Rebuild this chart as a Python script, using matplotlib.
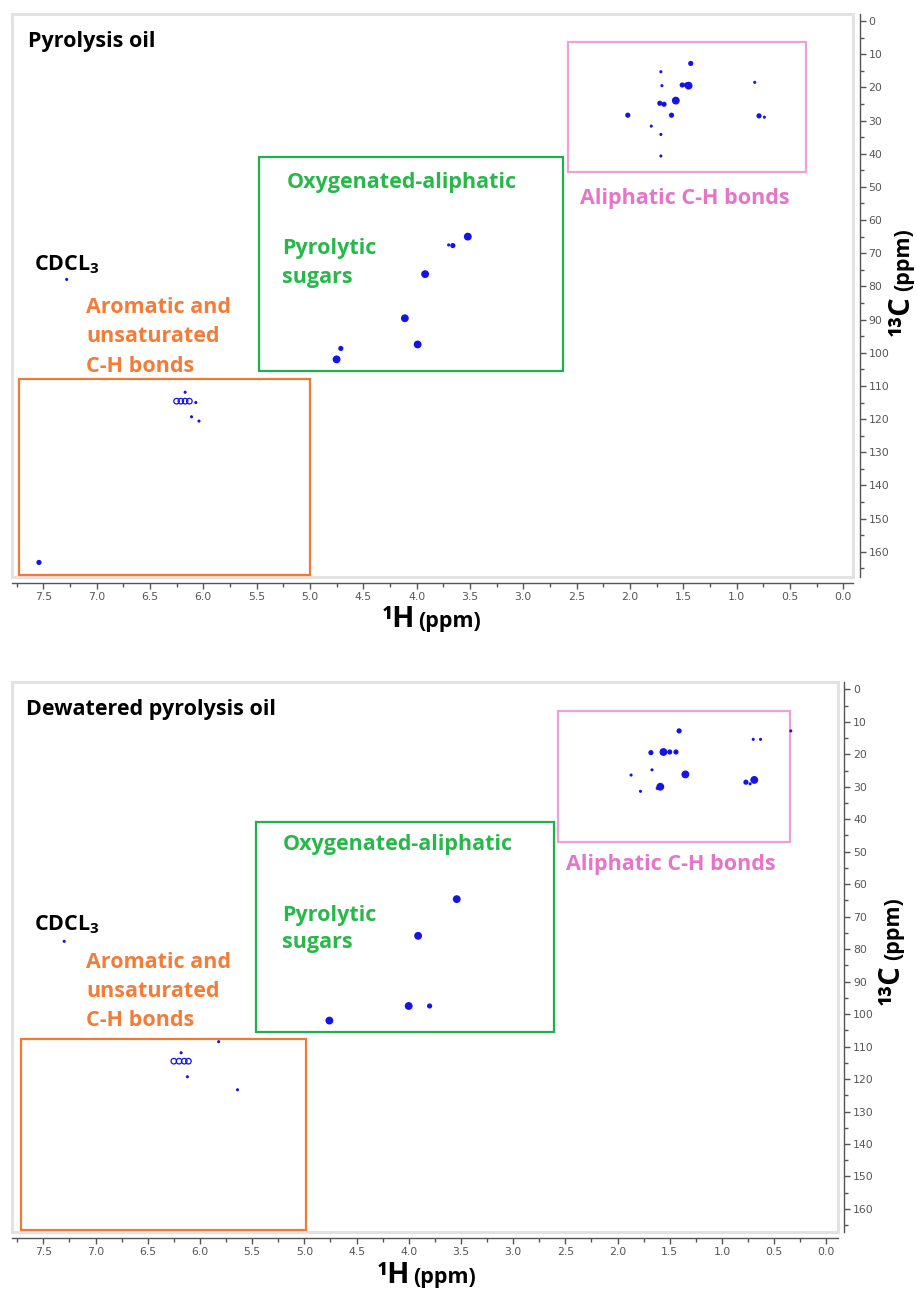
import matplotlib
matplotlib.use("Agg")
import matplotlib.pyplot as plt
from matplotlib.patches import Rectangle

plt.rcParams['mathtext.fontset'] = 'custom'
plt.rcParams['mathtext.rm'] = 'Open Sans'
plt.rcParams['mathtext.bf'] = 'Open Sans:bold'

# ---------------- data ----------------
panel_titles = ["Pyrolysis oil", "Dewatered pyrolysis oil"]
h_ticks = [7.5, 7.0, 6.5, 6.0, 5.5, 5.0, 4.5, 4.0, 3.5, 3.0, 2.5, 2.0, 1.5, 1.0, 0.5, 0.0]
c_ticks = [0, 10, 20, 30, 40, 50, 60, 70, 80, 90, 100, 110, 120, 130, 140, 150, 160]

# Pyrolysis oil cross peaks (1H ppm, 13C ppm, intensity level 1-3)
po_h = [7.54, 7.28, 6.17, 6.07, 6.11, 6.04,
        4.75, 4.71, 4.11, 3.99, 3.92, 3.70, 3.66, 3.52,
        1.43, 1.71, 1.70, 1.51, 1.47, 1.45, 0.83, 1.72, 1.68, 1.57,
        2.02, 1.61, 0.79, 0.74, 1.80, 1.71, 1.71]
po_c = [163.2, 77.9, 111.9, 115.0, 119.3, 120.6,
        102.0, 98.7, 89.6, 97.5, 76.3, 67.5, 67.7, 65.0,
        12.8, 15.3, 19.5, 19.3, 19.3, 19.5, 18.5, 24.8, 25.1, 24.0,
        28.4, 28.4, 28.6, 29.0, 31.7, 34.2, 40.7]
po_int = [2, 1, 1, 1, 1, 1,
          3, 2, 3, 3, 3, 1, 2, 3,
          2, 1, 1, 2, 2, 3, 1, 2, 2, 3,
          2, 2, 2, 1, 1, 1, 1]
po_ring_h = [6.25, 6.21, 6.17, 6.13]
po_ring_c = [114.6, 114.6, 114.6, 114.6]

# Dewatered pyrolysis oil cross peaks
dpo_h = [7.30, 6.18, 6.12, 5.64, 5.82,
         4.76, 4.00, 3.80, 3.91, 3.54,
         1.41, 0.70, 0.63, 0.34, 1.68, 1.56, 1.50, 1.44, 1.67, 1.35,
         1.87, 0.77, 0.73, 0.69, 1.59, 1.62, 1.78]
dpo_c = [77.6, 111.9, 119.3, 123.3, 108.5,
         102.0, 97.5, 97.5, 75.9, 64.6,
         12.8, 15.4, 15.4, 12.8, 19.5, 19.3, 19.3, 19.3, 24.8, 26.2,
         26.4, 28.6, 29.1, 27.9, 30.0, 30.5, 31.4]
dpo_int = [1, 1, 1, 1, 1,
           3, 3, 2, 3, 3,
           2, 1, 1, 1, 2, 3, 2, 2, 1, 3,
           1, 2, 1, 3, 3, 1, 1]
dpo_ring_h = [6.25, 6.20, 6.15, 6.11]
dpo_ring_c = [114.5, 114.5, 114.5, 114.5]

# Assignment regions: (1H left, 1H right, 13C top, 13C bottom)
po_regions = {
    "aliphatic": (2.58, 0.35, 6.2, 45.6),
    "oxygenated": (5.48, 2.63, 40.9, 105.5),
    "aromatic": (7.73, 5.00, 108.0, 167.0),
}
dpo_regions = {
    "aliphatic": (2.57, 0.35, 6.6, 46.9),
    "oxygenated": (5.46, 2.61, 40.9, 105.4),
    "aromatic": (7.71, 4.98, 107.6, 166.5),
}

# ---------------- style ----------------
W, H = 917, 1289
BOX_COL = {"aliphatic": "#EEA0DA", "oxygenated": "#1FB04B", "aromatic": "#F07A35"}
TXT_COL = {"aliphatic": "#E674C8", "oxygenated": "#28B84A", "aromatic": "#F27C38"}
PEAK_COL = "#1414E6"
SIZE_MAP = {1: 5, 2: 14, 3: 32}
FONT = "Open Sans"
FS = 15.5

fig = plt.figure(figsize=(W / 100, H / 100), dpi=100)
fig.patch.set_facecolor("white")
renderer = fig.canvas.get_renderer()


def make_axes(px_left, px_right, px_top, px_bottom):
    return fig.add_axes([px_left / W, 1 - px_bottom / H,
                         (px_right - px_left) / W, (px_bottom - px_top) / H])


def style_axes(ax, xlim, ylim):
    ax.set_xlim(*xlim)
    ax.set_ylim(*ylim)
    for s in ["top", "left"]:
        ax.spines[s].set_visible(False)
    for s in ["bottom", "right"]:
        ax.spines[s].set_position(("outward", 4.5))
        ax.spines[s].set_color("#555555")
        ax.spines[s].set_linewidth(1.0)
    ax.yaxis.tick_right()
    ax.set_xticks(h_ticks)
    ax.set_xticklabels([f"{v:.1f}" for v in h_ticks])
    ax.set_xticks([v + 0.25 for v in h_ticks], minor=True)
    ax.set_yticks(c_ticks)
    ax.set_yticklabels([str(v) for v in c_ticks])
    ax.set_yticks([v + 5 for v in c_ticks], minor=True)
    ax.tick_params(axis="both", which="major", length=4, width=1, color="#555555",
                   labelsize=7.8, labelcolor="#555555", pad=2.5)
    ax.tick_params(axis="both", which="minor", length=3, width=1, color="#555555")
    ax.tick_params(axis="y", which="both", left=False, right=True)
    for lab in ax.get_xticklabels() + ax.get_yticklabels():
        lab.set_family("DejaVu Sans")
    ax.add_patch(Rectangle((0, 0), 1, 1, transform=ax.transAxes, fill=False,
                           ec="#E2E2E2", lw=2.2, clip_on=False, zorder=0))


def draw_panel(ax, title, title_y, hs, cs, ints, ring_h, ring_c, regions, txt):
    for key, (h0, h1, c0, c1) in regions.items():
        ax.add_patch(Rectangle((h1, c0), h0 - h1, c1 - c0, fill=False,
                               ec=BOX_COL[key], lw=1.6, zorder=2))
    ax.scatter(hs, cs, s=[SIZE_MAP[i] for i in ints], color=PEAK_COL,
               linewidths=0, zorder=3)
    ax.scatter(ring_h, ring_c, s=16, facecolors="none", edgecolors=PEAK_COL,
               linewidths=0.9, zorder=3)
    kw = dict(family=FONT, weight="bold", fontsize=FS, ha="left", va="baseline")
    ax.text(txt["title"][0], title_y, title, color="black", **kw)
    ax.text(txt["cdcl"][0], txt["cdcl"][1], r"CDCL$_{\mathbf{3}}$", color="black", **kw)
    for line, y in zip(["Aromatic and", "unsaturated", "C-H bonds"], txt["arom"][1]):
        ax.text(txt["arom"][0], y, line, color=TXT_COL["aromatic"], **kw)
    ax.text(txt["oxy"][0], txt["oxy"][1], "Oxygenated-aliphatic",
            color=TXT_COL["oxygenated"], **kw)
    for line, y in zip(["Pyrolytic", "sugars"], txt["sug"][1]):
        ax.text(txt["sug"][0], y, line, color=TXT_COL["oxygenated"], **kw)
    ax.text(txt["ali"][0], txt["ali"][1], "Aliphatic C-H bonds",
            color=TXT_COL["aliphatic"], **kw)


def axis_titles(h_right_px, h_base_px, c_x_px, c_start_px):
    fig.text(h_right_px / W, 1 - h_base_px / H, "¹H", family=FONT, weight="bold",
             fontsize=21, ha="right", va="baseline")
    fig.text((h_right_px + 3) / W, 1 - h_base_px / H, "(ppm)", family=FONT,
             weight="bold", fontsize=15.5, ha="left", va="baseline")
    t1 = fig.text(c_x_px / W, 1 - c_start_px / H, "¹³C", family=FONT, weight="bold",
                  fontsize=21, rotation=90, rotation_mode="anchor",
                  ha="left", va="baseline")
    bb = t1.get_window_extent(renderer)
    fig.text(c_x_px / W, (bb.y1 + 4) / H, "(ppm)", family=FONT,
             weight="bold", fontsize=15.5, rotation=90, rotation_mode="anchor",
             ha="left", va="baseline")


# ---------------- top panel ----------------
ax1 = make_axes(12.3, 853.3, 14, 576.7)
style_axes(ax1, (7.79, -0.094), (167.5, -2.1))
draw_panel(ax1, panel_titles[0], 7.7, po_h, po_c, po_int, po_ring_h, po_ring_c,
           po_regions,
           {"title": (7.64,), "cdcl": (7.59, 75.3),
            "arom": (7.10, [87.9, 96.7, 105.7]),
            "oxy": (5.22, 50.4), "sug": (5.26, [70.3, 78.9]),
            "ali": (2.47, 55.2)})
axis_titles(415, 627, 909, 336)

# ---------------- bottom panel ----------------
ax2 = make_axes(12.0, 838.0, 682.3, 1231.7)
style_axes(ax2, (7.80, -0.112), (167.0, -2.16))
draw_panel(ax2, panel_titles[1], 7.9, dpo_h, dpo_c, dpo_int, dpo_ring_h, dpo_ring_c,
           dpo_regions,
           {"title": (7.67,), "cdcl": (7.59, 74.1),
            "arom": (7.09, [85.9, 94.6, 103.7]),
            "oxy": (5.21, 49.6), "sug": (5.21, [71.2, 79.7]),
            "ali": (2.49, 55.6)})
axis_titles(410, 1283, 899, 1005)

fig.savefig("out.png", dpi=100, facecolor="white")
